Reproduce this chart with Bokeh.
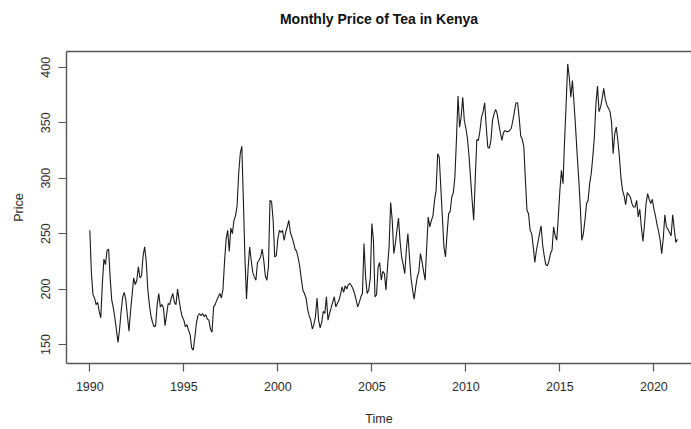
from bokeh.plotting import figure
from bokeh.models import Range1d, FixedTicker, LinearAxis, ColumnDataSource
from bokeh.embed import file_html
from bokeh.resources import INLINE

start_year = 1990
price_1990 = [253, 215, 195, 192, 186, 188, 180, 174, 205, 227, 222, 235]
price_1991 = [236, 210, 190, 183, 174, 163, 152, 164, 180, 193, 197, 190]
price_1992 = [176, 162, 180, 195, 210, 204, 208, 220, 210, 212, 230, 238]
price_1993 = [225, 200, 186, 176, 170, 166, 167, 186, 196, 184, 186, 183]
price_1994 = [167, 177, 187, 186, 192, 196, 188, 186, 200, 190, 181, 175]
price_1995 = [172, 166, 168, 163, 159, 147, 145, 156, 169, 176, 178, 176]
price_1996 = [178, 175, 177, 173, 172, 164, 161, 184, 186, 190, 193, 196]
price_1997 = [192, 200, 225, 245, 253, 234, 255, 250, 262, 266, 275, 304]
price_1998 = [322, 329, 280, 228, 191, 218, 238, 226, 215, 211, 208, 224]
price_1999 = [226, 229, 236, 226, 212, 208, 220, 280, 279, 262, 229, 230]
price_2000 = [245, 253, 251, 253, 244, 251, 256, 262, 251, 247, 242, 236]
price_2001 = [234, 228, 220, 209, 199, 196, 192, 182, 176, 172, 164, 168]
price_2002 = [175, 192, 172, 165, 170, 180, 178, 193, 172, 178, 183, 188]
price_2003 = [193, 184, 187, 190, 195, 202, 197, 203, 200, 204, 205, 203]
price_2004 = [200, 196, 190, 184, 188, 193, 196, 241, 211, 196, 199, 210]
price_2005 = [259, 244, 193, 195, 220, 224, 208, 216, 214, 199, 220, 238]
price_2006 = [278, 262, 232, 241, 253, 264, 243, 229, 222, 214, 235, 250]
price_2007 = [229, 210, 199, 191, 202, 211, 216, 232, 225, 216, 208, 238]
price_2008 = [265, 256, 262, 266, 280, 289, 322, 319, 292, 265, 238, 229]
price_2009 = [250, 268, 270, 283, 287, 301, 335, 374, 346, 355, 373, 352]
price_2010 = [345, 336, 320, 300, 280, 262, 300, 335, 334, 343, 355, 360]
price_2011 = [368, 346, 328, 327, 334, 352, 358, 362, 358, 349, 341, 334]
price_2012 = [341, 343, 342, 342, 343, 345, 352, 360, 368, 368, 355, 338]
price_2013 = [335, 328, 298, 271, 268, 253, 250, 238, 224, 235, 242, 250]
price_2014 = [257, 240, 230, 222, 221, 225, 232, 235, 256, 248, 244, 265]
price_2015 = [289, 307, 295, 334, 367, 403, 391, 373, 388, 368, 346, 322]
price_2016 = [300, 275, 244, 250, 262, 277, 280, 295, 304, 319, 337, 367]
price_2017 = [383, 360, 364, 372, 381, 371, 366, 363, 360, 350, 322, 340]
price_2018 = [346, 334, 319, 300, 289, 284, 276, 287, 285, 283, 277, 274]
price_2019 = [274, 280, 265, 272, 256, 243, 258, 277, 286, 281, 277, 281]
price_2020 = [272, 266, 258, 252, 244, 232, 246, 267, 256, 254, 251, 248]
price_2021 = [267, 254, 242, 245]

year_ticks = [1990, 1995, 2000, 2005, 2010, 2015, 2020]
price_ticks = [150, 200, 250, 300, 350, 400]

yearly = [price_1990, price_1991, price_1992, price_1993, price_1994, price_1995,
          price_1996, price_1997, price_1998, price_1999, price_2000, price_2001,
          price_2002, price_2003, price_2004, price_2005, price_2006, price_2007,
          price_2008, price_2009, price_2010, price_2011, price_2012, price_2013,
          price_2014, price_2015, price_2016, price_2017, price_2018, price_2019,
          price_2020, price_2021]
prices = [v for yr in yearly for v in yr]
times = [start_year + i / 12 for i in range(len(prices))]

src = ColumnDataSource(data=dict(t=times, price=prices))

FONT = "'Liberation Sans', Arial, sans-serif"
TXT = "#2b2b2b"
BOX = "#555555"

p = figure(width=691, height=429, output_backend="svg", toolbar_location=None,
           x_range=Range1d(1988.76, 2022.0), y_range=Range1d(132.9, 414.2),
           min_border_left=66, min_border_right=0, min_border_top=51,
           min_border_bottom=66, x_axis_label="Time", y_axis_label="Price")
p.outline_line_color = None
p.xgrid.visible = False
p.ygrid.visible = False
p.background_fill_color = "white"
p.border_fill_color = "white"

p.line("t", "price", source=src, line_color="#1a1a1a", line_width=1.1)

for ax, ticks in ((p.xaxis[0], year_ticks), (p.yaxis[0], price_ticks)):
    ax.ticker = FixedTicker(ticks=ticks)
    ax.minor_tick_line_color = None
    ax.major_tick_in = 0
    ax.major_tick_out = 8
    ax.major_tick_line_color = BOX
    ax.major_tick_line_width = 1.2
    ax.axis_line_color = BOX
    ax.axis_line_width = 1.4
    ax.major_label_text_font = FONT
    ax.major_label_text_font_size = "12.5px"
    ax.major_label_text_color = TXT
    ax.axis_label_text_font = FONT
    ax.axis_label_text_font_size = "12.5px"
    ax.axis_label_text_font_style = "normal"
    ax.axis_label_text_color = TXT

p.xaxis[0].major_label_standoff = 10
p.yaxis[0].major_label_standoff = 8
p.yaxis[0].major_label_orientation = "vertical"
p.xaxis[0].axis_label_standoff = 18
p.yaxis[0].axis_label_standoff = 13

top = LinearAxis(ticker=FixedTicker(ticks=[]), axis_label="Monthly Price of Tea in Kenya")
top.axis_line_color = BOX
top.axis_line_width = 1.4
top.major_tick_line_color = None
top.minor_tick_line_color = None
top.major_label_text_font_size = "0px"
top.axis_label_text_font = FONT
top.axis_label_text_font_size = "14px"
top.axis_label_text_font_style = "bold"
top.axis_label_text_color = "#111111"
top.axis_label_standoff = 25
p.add_layout(top, "above")

open("out.html", "w").write(file_html(p, INLINE))
